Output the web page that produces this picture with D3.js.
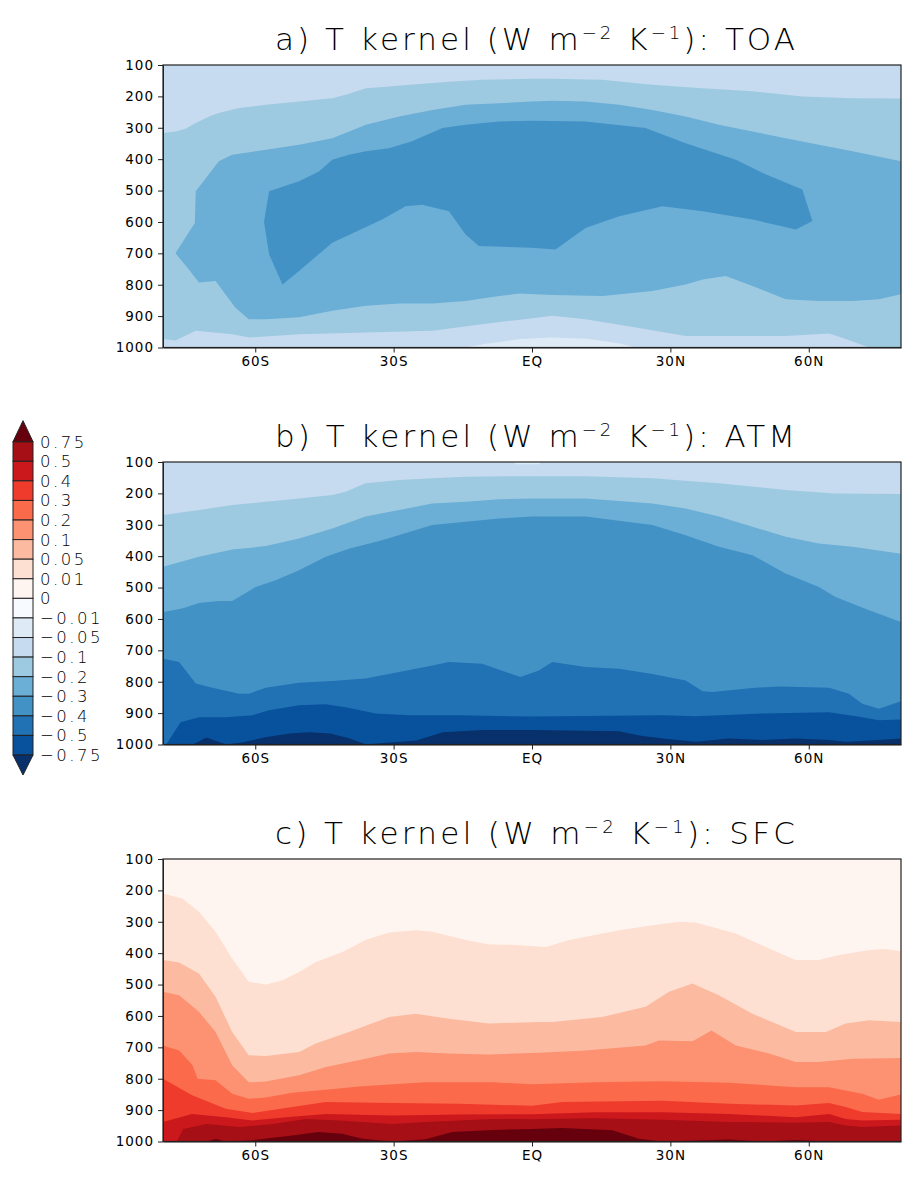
<!DOCTYPE html>
<html>
<head>
<meta charset="utf-8">
<title>T kernel</title>
<script src="https://d3js.org/d3.v7.min.js"></script>
<style>
  body { margin: 0; background: #fff; }
  text { font-family: "DejaVu Sans", sans-serif; fill: #000; }
  .tick text { font-size: 13.5px; letter-spacing: 1px; }
  .title { font-size: 31px; font-weight: 200; }
  .cb text { font-size: 16.5px; letter-spacing: 2.5px; font-weight: 200; }
</style>
</head>
<body>
<script>
// contour levels and fill colours (Blues / Reds)
var levels = [-0.75, -0.5, -0.4, -0.3, -0.2, -0.1, -0.05, -0.01, 0, 0.01, 0.05, 0.1, 0.2, 0.3, 0.4, 0.5, 0.75];
var colors = ["#08306b", "#08519c", "#2171b5", "#4292c6", "#6baed6", "#9ecae1", "#c6dbef", "#deebf7", "#f7fbff",
              "#fff5f0", "#fee0d2", "#fcbba1", "#fc9272", "#fb6a4a", "#ef3b2c", "#cb181d", "#a50f15", "#67000d"];

// axis ticks
var latTicks = [-60, -30, 0, 30, 60];
var latLabels = ["60S", "30S", "EQ", "30N", "60N"];
var presTicks = [100, 200, 300, 400, 500, 600, 700, 800, 900, 1000];

// contour boundaries: [latitude, pressure hPa]
// a) TOA
var toaLight = [[-14.4,1000],[-10,988],[-3,974],[4,968],[12,972],[19,987],[22.5,1000]];
var toaM01Top = [[-80,317],[-77.3,312],[-75.1,303],[-72.9,285],[-70,264],[-67.9,253],[-63.5,237],[-57.7,227],[-50.5,216],[-43.3,206],[-40.4,195],[-36,174],[-31.7,169],[-25.2,161],[-18,153],[-10.8,147],[0,144],[4.4,144],[15.2,147],[26.1,163],[36.9,174],[47.8,184],[58.6,200],[69.5,206],[80,207]];
var toaM01Bot = [[-80,973],[-77.3,978],[-72.9,947],[-65,958],[-61.3,968],[-50.5,958],[-36,952],[-21.6,947],[-10.8,926],[-3,912],[4.4,899],[11.6,910],[22.5,936],[33.3,963],[44.2,963],[55,963],[64.4,955],[68,973],[73.1,1000],[80,1000]];
var toaM02Top = [[-77.3,700],[-73.1,603],[-72.9,502],[-67.9,407],[-65,386],[-57.7,370],[-50.5,354],[-43.3,333],[-36,290],[-28.8,264],[-21.6,243],[-14.4,227],[-7.1,222],[0,216],[4.4,214],[11.6,216],[18.9,227],[26.1,243],[33.3,264],[40.5,290],[47.8,312],[55,333],[62.2,354],[69.5,375],[80,407]];
var toaM02Bot = [[-77.3,700],[-74.7,746],[-72.2,793],[-68.6,788],[-64.3,873],[-61.4,910],[-57.7,910],[-50.5,904],[-43.3,883],[-36,867],[-28.8,860],[-21.6,860],[-14.4,852],[-7.1,836],[-2.8,828],[4.4,833],[15.3,836],[26.1,820],[33.3,799],[37,783],[42,772],[47.8,804],[55,846],[62.2,852],[69.5,852],[75.2,846],[80,830]];
var toaM03Top = [[-58.1,600],[-57,502],[-50.5,470],[-46.2,439],[-43.3,402],[-39.7,386],[-36,375],[-31,365],[-26,343],[-19.4,301],[-14.4,290],[-7.1,280],[0,278],[11.6,280],[24.6,301],[33.3,349],[44.2,402],[50,444],[58.6,497],[60.8,597]];
var toaM03Bot = [[-58.1,600],[-57,703],[-54.1,799],[-50.5,756],[-43.3,666],[-32.5,592],[-27.4,550],[-23.8,545],[-18,566],[-14.4,640],[-11.5,677],[0,682],[5.1,688],[11.6,619],[18.9,582],[28.3,550],[37,566],[47.8,592],[57.2,624],[60.8,597]];

// b) ATM
var atmLightTop = [[-4,100],[-3.5,107],[1.5,107],[2,100]];
var atmLightBot = [[-4,100],[2,100]];
var atmL1 = [[-80,269],[-72.2,253],[-65,237],[-57.7,227],[-50.5,216],[-43.3,205],[-40.4,195],[-36.1,168],[-28.8,157],[-21.6,152],[-14.4,147],[0,145],[11.6,145],[26.1,152],[40.5,168],[55,189],[65.8,200],[80,202]];
var atmL2 = [[-80,434],[-72.2,402],[-65,379],[-57.7,368],[-50.5,344],[-43.3,312],[-36.1,274],[-28.8,253],[-21.6,232],[-14.4,227],[-7.1,219],[0,216],[11.6,216],[26.1,232],[33.3,248],[40.5,274],[47.8,306],[55,338],[62.2,360],[69.5,370],[80,392]];
var atmL3 = [[-80,578],[-75.8,567],[-72.2,549],[-67.9,543],[-65,543],[-62.8,524],[-59.9,498],[-55.6,477],[-50.5,445],[-44.7,402],[-39.7,376],[-32.5,349],[-25.2,317],[-21.6,301],[-14.4,290],[-7.1,280],[0,274],[11.6,274],[26.1,301],[33.3,333],[40.5,370],[47.8,397],[55,455],[62.2,498],[65.8,530],[73.1,572],[80,610]];
var atmL4 = [[-80,727],[-76.5,737],[-72.9,806],[-70,817],[-63.5,838],[-61.4,838],[-57.7,819],[-50.5,803],[-43.3,798],[-36.1,790],[-28.8,769],[-21.6,748],[-18,737],[-10.8,743],[-2.5,785],[1.5,764],[4.4,737],[11.6,753],[18.9,759],[26.1,775],[33.3,796],[37,830],[39.1,833],[47.8,820],[53.6,815],[64.4,819],[68.7,838],[71.6,870],[75.2,886],[80,862]];
var atmL5 = [[-80,1000],[-79.3,1000],[-76.2,929],[-72.2,913],[-66.4,913],[-60.6,907],[-57,891],[-50.5,875],[-44.7,872],[-40.4,881],[-33.9,901],[-26.7,907],[-15.8,907],[0,911],[28.3,907],[35.5,910],[50,901],[64.4,897],[71.6,913],[75.2,923],[80,920]];
var atmL6 = [[-80,1000],[-73.5,1000],[-70.6,978],[-66.3,1000],[-62.6,993],[-57.5,976],[-52.5,965],[-48.2,961],[-43.8,965],[-39.5,981],[-35.9,1000],[-32.3,995],[-25.1,987],[-19.3,961],[-10.6,954],[0,954],[18.9,958],[23.2,971],[28.3,981],[35.5,991],[42.7,981],[50,986],[57.2,981],[64.4,986],[68,991],[75.2,986],[80,981]];

// c) SFC
var sfcC1 = [[-80,210],[-75.8,226],[-72.2,268],[-68.6,332],[-65,417],[-61.4,491],[-57.7,500],[-54.1,486],[-50.5,460],[-46.9,428],[-41.1,396],[-36.1,358],[-31,334],[-25.2,327],[-21.6,332],[-14.4,358],[-9.3,372],[-3.5,374],[3,380],[8,358],[18.9,327],[26.1,311],[31.9,300],[35.5,302],[44.2,337],[51.4,385],[57.2,422],[62.2,422],[66.6,406],[73.1,390],[76.7,387],[80,394]];
var sfcC2 = [[-80,422],[-76.5,430],[-72.2,465],[-68.6,539],[-65,651],[-61.4,725],[-57.7,728],[-50.5,715],[-46.9,688],[-39.7,651],[-31,603],[-25.2,593],[-18,609],[-9.3,624],[1.5,619],[4.4,619],[15.2,603],[24.6,571],[29.7,523],[34.8,497],[40.5,534],[47.8,593],[57.2,651],[63.7,651],[68,624],[73.1,614],[80,619]];
var sfcC3 = [[-80,523],[-76.5,534],[-72.2,587],[-68.6,651],[-65,757],[-61.4,811],[-57.7,809],[-50.5,789],[-44.7,763],[-36.1,736],[-31,720],[-25.2,715],[-18,720],[-9.3,723],[1.5,717],[11.6,710],[24.6,694],[27.5,678],[34.8,681],[38.9,646],[44.2,694],[51.4,720],[57.2,747],[62.2,747],[69.5,736],[80,734]];
var sfcC4 = [[-80,694],[-76.5,710],[-73.6,757],[-72.5,800],[-68.6,805],[-65,848],[-61.4,864],[-57.7,860],[-52,845],[-44.7,835],[-37.5,825],[-30,818],[-23,811],[-8.6,811],[0,818],[13.8,811],[28.3,808],[42.7,813],[57.2,827],[64.4,827],[71.6,848],[75.2,867],[80,850]];
var sfcC5 = [[-80,800],[-73.7,853],[-66.4,896],[-60.6,909],[-52,890],[-44.7,874],[-30.3,877],[-15.8,880],[0,886],[6.6,874],[28.3,870],[42.7,880],[57.2,885],[64.4,877],[68,890],[71.6,906],[80,912]];
var sfcC6 = [[-80,938],[-73.7,912],[-66.4,923],[-60.6,933],[-52,921],[-44.7,912],[-30.3,917],[-15.8,914],[0,913],[13.8,907],[28.3,907],[42.7,912],[57.2,923],[64.4,912],[68,928],[71.6,933],[80,931]];
var sfcC7 = [[-80,1000],[-77,1000],[-75.6,960],[-70.6,944],[-63.4,954],[-56.2,944],[-49,928],[-41.8,933],[-30.3,944],[-23.1,938],[-15.8,933],[-8.6,928],[0,929],[13.8,926],[28.3,931],[42.7,938],[57.2,940],[64.4,938],[68,949],[71.6,954],[80,949]];
var sfcC8 = [[-80,1000],[-70.6,1000],[-68.5,992],[-66.4,1000],[-60.6,996],[-52,981],[-46.3,970],[-41.2,975],[-36.7,991],[-30.3,1000],[-23.1,993],[-17.3,970],[-8.6,963],[0,960],[6.6,957],[17.4,964],[23.2,991],[28.3,1000],[42.7,994],[50,1000],[57.2,995],[64.4,1000],[80,1000]];

// panels: each layer fills values beyond a contour (v = a value inside that band)
var panels = [
  {label: "a", name: "TOA", top: 65, base: -0.07, layers: [
    {v: -0.03, top: toaLight},
    {v: -0.15, top: toaM01Top, bot: toaM01Bot},
    {v: -0.25, top: toaM02Top, bot: toaM02Bot},
    {v: -0.35, top: toaM03Top, bot: toaM03Bot}]},
  {label: "b", name: "ATM", top: 462, base: -0.07, layers: [
    {v: -0.03, top: atmLightTop, bot: atmLightBot},
    {v: -0.15, top: atmL1}, {v: -0.25, top: atmL2}, {v: -0.35, top: atmL3},
    {v: -0.45, top: atmL4}, {v: -0.6, top: atmL5}, {v: -0.8, top: atmL6}]},
  {label: "c", name: "SFC", top: 859, base: 0.005, layers: [
    {v: 0.03, top: sfcC1}, {v: 0.07, top: sfcC2}, {v: 0.15, top: sfcC3}, {v: 0.25, top: sfcC4},
    {v: 0.35, top: sfcC5}, {v: 0.45, top: sfcC6}, {v: 0.6, top: sfcC7}, {v: 0.8, top: sfcC8}]}
];

var color = d3.scaleThreshold().domain(levels).range(colors);
var plotH = 282.5;
var x = d3.scaleLinear().domain([-80, 80]).range([163, 901]);

var svg = d3.select("body").append("svg")
  .attr("width", 906)
  .attr("height", 1178);

// closed outline: upper curve then lower curve (or the 1000 hPa floor)
function ring(l) {
  var bot;
  if (l.bot) bot = l.bot.slice().reverse();
  else bot = [[l.top[l.top.length - 1][0], 1000], [l.top[0][0], 1000]];
  return l.top.concat(bot);
}

panels.forEach(function(p, k) {
  var y = d3.scaleLinear().domain([100, 1000]).range([p.top, p.top + plotH]);
  var line = d3.line().x(function(d) { return x(d[0]); }).y(function(d) { return y(d[1]); });

  svg.append("clipPath").attr("id", "clip" + k)
    .append("rect")
    .attr("x", x(-80)).attr("y", p.top)
    .attr("width", x(80) - x(-80)).attr("height", plotH);

  var g = svg.append("g");
  var plot = g.append("g").attr("clip-path", "url(#clip" + k + ")");

  plot.append("rect")
    .attr("x", x(-80)).attr("y", p.top)
    .attr("width", x(80) - x(-80)).attr("height", plotH)
    .attr("fill", color(p.base));

  plot.selectAll("path.band")
    .data(p.layers)
    .join("path")
    .attr("class", "band")
    .attr("d", function(d) { return line(ring(d)) + "Z"; })
    .attr("fill", function(d) { return color(d.v); });

  // axes
  g.append("g")
    .attr("transform", "translate(0," + (p.top + plotH) + ")")
    .call(d3.axisBottom(x).tickValues(latTicks)
      .tickFormat(function(d, i) { return latLabels[i]; })
      .tickSize(5).tickPadding(4).tickSizeOuter(0));

  g.append("g")
    .attr("transform", "translate(" + x(-80) + ",0)")
    .call(d3.axisLeft(y).tickValues(presTicks).tickFormat(d3.format("d"))
      .tickSize(5).tickPadding(4).tickSizeOuter(0));

  g.selectAll(".domain, .tick line").attr("stroke", "#222");

  // frame
  g.append("rect")
    .attr("x", x(-80)).attr("y", p.top)
    .attr("width", x(80) - x(-80)).attr("height", plotH)
    .attr("fill", "none")
    .attr("stroke", "#222")
    .attr("stroke-width", 1.2);

  // title
  var t = g.append("text")
    .attr("class", "title")
    .attr("x", 275)
    .attr("y", p.top - 15)
    .attr("textLength", 520)
    .attr("lengthAdjust", "spacing");
  t.append("tspan").text(p.label + ") T kernel (W m");
  t.append("tspan").attr("font-size", "18px").attr("dy", "-11").text("\u22122");
  t.append("tspan").attr("dy", "11").text(" K");
  t.append("tspan").attr("font-size", "18px").attr("dy", "-11").text("\u22121");
  t.append("tspan").attr("dy", "11").text("): " + p.name);
});

// colour bar
var cbY = d3.scaleLinear().domain([0, 16]).range([441.7, 755]);
var cb = svg.append("g").attr("class", "cb");
var boxes = d3.range(16);

cb.selectAll("rect")
  .data(boxes)
  .join("rect")
  .attr("x", 13)
  .attr("y", function(i) { return cbY(i); })
  .attr("width", 20)
  .attr("height", cbY(1) - cbY(0))
  .attr("fill", function(i) { return colors[16 - i]; })
  .attr("stroke", "#222")
  .attr("stroke-width", 1);

cb.append("path")
  .attr("d", "M13," + cbY(0) + "L23," + (cbY(0) - 21) + "L33," + cbY(0) + "Z")
  .attr("fill", colors[17]).attr("stroke", "#222");
cb.append("path")
  .attr("d", "M13," + cbY(16) + "L23," + (cbY(16) + 20) + "L33," + cbY(16) + "Z")
  .attr("fill", colors[0]).attr("stroke", "#222");

cb.selectAll("text")
  .data(levels.slice().reverse())
  .join("text")
  .attr("x", 40)
  .attr("y", function(d, i) { return cbY(i); })
  .attr("dy", "0.36em")
  .text(function(d) { return String(d).replace("-", "\u2212"); });
</script>
</body>
</html>
